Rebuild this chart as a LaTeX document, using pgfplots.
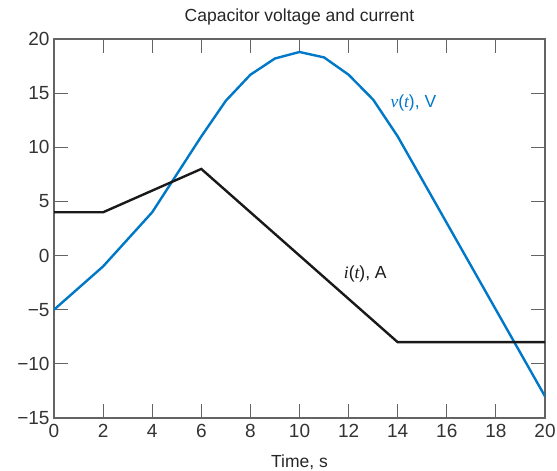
\documentclass[border=0pt]{standalone}
\usepackage{fontspec}
\setmainfont{Liberation Sans}
\newfontfamily\serifit{Liberation Serif}
\usepackage{pgfplots}
\pgfplotsset{compat=1.18}
\definecolor{vblue}{RGB}{0,120,200}
\definecolor{frame}{RGB}{100,100,100}
\begin{document}
\begin{tikzpicture}
\begin{axis}[
  scale only axis, width=491bp, height=379bp,
  xmin=0, xmax=20, ymin=-15, ymax=20,
  xtick={0,2,4,6,8,10,12,14,16,18,20},
  xticklabels={0,2,4,6,8,10,12,14,16,18,20},
  ytick={-15,-10,-5,0,5,10,15,20},
  yticklabels={−15,−10,−5,0,5,10,15,20},
  tick align=inside, major tick length=14bp,
  tick style={frame, line width=0.9bp},
  axis line style={frame, line width=1.1bp},
  ticklabel style={font=\fontsize{19bp}{19bp}\selectfont, text=black!80},
  xticklabel style={yshift=-3bp},
  yticklabel style={xshift=-1bp},
  title={Capacitor voltage and current},
  title style={font=\fontsize{17.5bp}{17.5bp}\selectfont, text=black!85, at={(axis description cs:0.5,1)}, anchor=base, yshift=12bp},
  xlabel={Time, s},
  xlabel style={font=\fontsize{17.5bp}{17.5bp}\selectfont, text=black!85, at={(axis description cs:0.5,0)}, anchor=base, yshift=-49bp},
]
\addplot[vblue, line width=2.4bp] coordinates {
  (0,-5) (2,-1) (4,4) (6,11) (7,14.3) (8,16.7) (9,18.2) (10,18.8)
  (11,18.3) (12,16.7) (13,14.4) (14,11) (20,-13)};
\addplot[black!90, line width=2.4bp] coordinates {
  (0,4) (2,4) (6,8) (14,-8) (20,-8)};
\node[anchor=west, text=vblue, font=\fontsize{17.5bp}{17.5bp}\selectfont, inner sep=0pt]
  at (axis cs:13.7,14.1) {{\serifit\itshape v}({\serifit\itshape t}), V};
\node[anchor=west, text=black!90, font=\fontsize{17.5bp}{17.5bp}\selectfont, inner sep=0pt]
  at (axis cs:11.8,-1.7) {{\serifit\itshape i}({\serifit\itshape t}), A};
\end{axis}
\pgfresetboundingbox
\path ([shift={(-54bp,-53bp)}]current axis.south west) rectangle ([shift={(12bp,39bp)}]current axis.north east);
\end{tikzpicture}
\end{document}
